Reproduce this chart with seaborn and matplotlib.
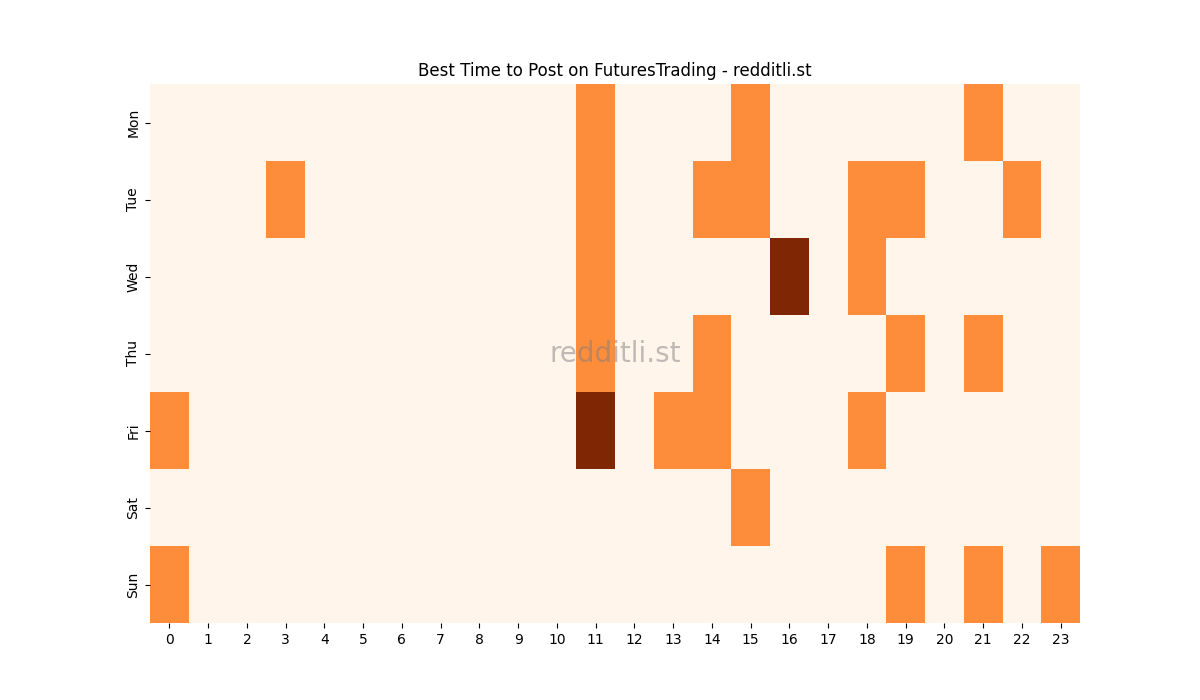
"""Heatmap of the best posting hours for FuturesTrading."""

import matplotlib
matplotlib.use("Agg")
import matplotlib.pyplot as plt
import numpy as np
import pandas as pd
import seaborn as sns


DAYS = ["Mon", "Tue", "Wed", "Thu", "Fri", "Sat", "Sun"]
HOURS = list(range(24))

# hour -> score for each weekday (all other hours are 0)
MON = {11: 1, 15: 1, 21: 1}
TUE = {3: 1, 11: 1, 14: 1, 15: 1, 18: 1, 19: 1, 22: 1}
WED = {11: 1, 16: 2, 18: 1}
THU = {11: 1, 14: 1, 19: 1, 21: 1}
FRI = {0: 1, 11: 2, 13: 1, 14: 1, 18: 1}
SAT = {15: 1}
SUN = {0: 1, 19: 1, 21: 1, 23: 1}


def build_table():
    rows = [MON, TUE, WED, THU, FRI, SAT, SUN]
    table = pd.DataFrame(0, index=DAYS, columns=HOURS)
    for day, row in zip(DAYS, rows):
        for hour, value in row.items():
            table.loc[day, hour] = value
    return table


if __name__ == "__main__":
    table = build_table()
    fig, ax = plt.subplots(figsize=(12, 7), dpi=100)
    sns.heatmap(table, cmap="Oranges", cbar=False, ax=ax)
    ax.set_title("Best Time to Post on FuturesTrading - redditli.st")
    ax.text(0.5, 0.5, "redditli.st", transform=ax.transAxes,
            ha="center", va="center", fontsize=20, color="gray", alpha=0.5)
    fig.savefig("out.png", dpi=100)
